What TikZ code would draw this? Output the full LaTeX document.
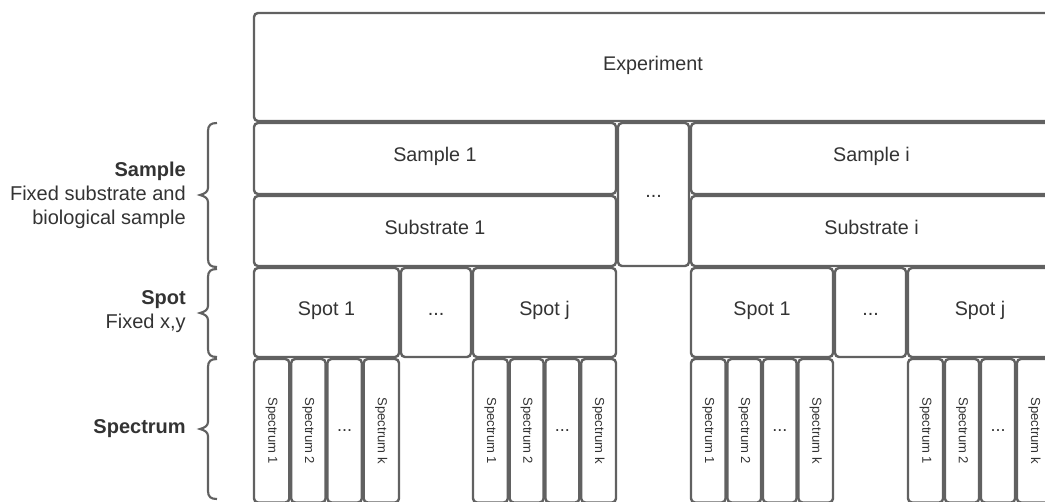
\documentclass[tikz,border=0pt]{standalone}
\usepackage{fontspec}
\setmainfont{Liberation Sans}
\usetikzlibrary{fit}
\definecolor{edge}{HTML}{616161}
\definecolor{ink}{HTML}{333333}
\tikzset{
  cell/.style={draw=edge, line width=1.8pt, rounded corners=3pt, inner sep=0pt},
  celltext/.style={text=ink, inner sep=0pt, text height=0.72em, text depth=0.21em,
    font=\fontsize{14.8}{18}\selectfont},
  spectxt/.style={text=ink, inner sep=0pt, font=\fontsize{9.8}{11}\selectfont, rotate=-90},
  specdots/.style={text=ink, inner sep=0pt, font=\fontsize{13.5}{14}\selectfont},
  lbl/.style={text=ink, align=right, anchor=east, inner sep=0pt, font=\fontsize{15}{18}\selectfont},
  bracket/.style={draw=edge, line width=1.6pt}
}
% curly bracket on the left of a level: #1 top, #2 bottom (px)
\newcommand\levelbrace[2]{%
  \pgfmathsetmacro\bm{(#1+#2)/2}
  \draw[bracket] (217,#1) .. controls (211,#1) and (208,#1+2) .. (208,#1+8)
    -- (208,\bm-7) .. controls (208,\bm-3) and (204,\bm-1) .. (200,\bm)
    .. controls (204,\bm+1) and (208,\bm+3) .. (208,\bm+7)
    -- (208,#2-8) .. controls (208,#2-2) and (211,#2) .. (217,#2);}
% a framed cell with its caption in the middle
\newcommand\cellbox[4]{% name, corner 1, corner 2, caption
  \node[cell, fit={#2 #3}] (#1) {};
  \node[celltext] at (#1.center) {#4};}
\begin{document}
\begin{tikzpicture}[x=0.75pt,y=-0.75pt]
  \path[use as bounding box] (0,0) rectangle (1045,502);
  \fill[white] (0,0) rectangle (1045,502);
  \clip (0,0) rectangle (1045,502);

  % experiment level
  \cellbox{exp}{(254,13)}{(1052,121)}{Experiment}

  % sample / substrate level
  \cellbox{sample1}{(254,123)}{(616,194)}{Sample 1}
  \cellbox{substrate1}{(254,196)}{(616,266)}{Substrate 1}
  \cellbox{sampledots}{(618,123)}{(689,266)}{...}
  \cellbox{samplei}{(691,123)}{(1052,194)}{Sample i}
  \cellbox{substratei}{(691,196)}{(1052,266)}{Substrate i}

  % spot level
  \cellbox{spotA1}{(254,268)}{(399,357)}{Spot 1}
  \cellbox{spotAdots}{(401,268)}{(471,357)}{...}
  \cellbox{spotAj}{(473,268)}{(616,357)}{Spot j}
  \cellbox{spotB1}{(691,268)}{(833,357)}{Spot 1}
  \cellbox{spotBdots}{(835,268)}{(906,357)}{...}
  \cellbox{spotBj}{(908,268)}{(1052,357)}{Spot j}

  % spectrum level: four columns under every spot
  \foreach \g/\L/\R in {a/254/399, b/473/616, c/691/833, d/908/1052} {
    \foreach \i in {0,1,2,3} {
      \pgfmathsetmacro\xa{\L+(\R-\L)*\i/4 + (\i>0 ? 0.9 : 0)}
      \pgfmathsetmacro\xb{\L+(\R-\L)*(\i+1)/4 - (\i<3 ? 0.9 : 0)}
      \node[cell, fit={(\xa,359) (\xb,502.5)}] (spec-\g\i) {};
    }
    \node[spectxt] at (spec-\g0.center) {Spectrum 1};
    \node[spectxt] at (spec-\g1.center) {Spectrum 2};
    \node[specdots] at (spec-\g2.center) {...};
    \node[spectxt] at (spec-\g3.center) {Spectrum k};
  }

  % level brackets and their labels
  \levelbrace{123}{267}
  \levelbrace{269}{357}
  \levelbrace{359}{499}
  \node[lbl] (lsample) at (186,195) {\textbf{Sample}\\Fixed substrate and\\biological sample};
  \node[lbl] (lspot) at (186,312) {\textbf{Spot}\\Fixed x,y};
  \node[lbl] (lspectrum) at (186,429) {\textbf{Spectrum}};
\end{tikzpicture}
\end{document}
